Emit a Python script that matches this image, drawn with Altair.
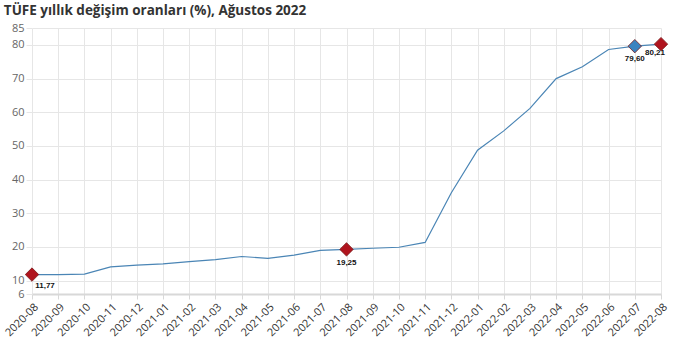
import altair as alt
import pandas as pd

months = ["2020-08", "2020-09", "2020-10", "2020-11", "2020-12", "2021-01", "2021-02",
          "2021-03", "2021-04", "2021-05", "2021-06", "2021-07", "2021-08", "2021-09",
          "2021-10", "2021-11", "2021-12", "2022-01", "2022-02", "2022-03", "2022-04",
          "2022-05", "2022-06", "2022-07", "2022-08"]
values = [11.77, 11.75, 11.89, 14.03, 14.60, 14.97, 15.61, 16.19, 17.14, 16.59, 17.53,
          18.95, 19.25, 19.58, 19.89, 21.31, 36.08, 48.69, 54.44, 61.14, 69.97, 73.50,
          78.62, 79.60, 80.21]

marker_months = ["2020-08", "2021-08", "2022-07", "2022-08"]
marker_values = [11.77, 19.25, 79.60, 80.21]
marker_labels = ["11,77", "19,25", "79,60", "80,21"]
marker_colors = ["#b0141e", "#b0141e", "#3b83c0", "#b0141e"]
label_dx = [13, 0, 0, -6]
label_dy = [11, 14, 13, 9]

y_ticks = [6, 10, 20, 30, 40, 50, 60, 70, 80, 85]

df = pd.DataFrame({"month": months, "value": values})
mk = pd.DataFrame({"month": marker_months, "value": marker_values, "label": marker_labels,
                   "color": marker_colors, "dx": label_dx, "dy": label_dy})

x = alt.X("month:O", sort=months, scale=alt.Scale(type="point", padding=0),
          axis=alt.Axis(title=None, labelAngle=-45, labelFontSize=11, labelColor="#333333",
                        labelFont="Open Sans", grid=True, gridColor="#e6e6e6",
                        domainColor="#d8d8d8", domainWidth=2, tickColor="#d8d8d8",
                        tickSize=5, labelPadding=2, labelOverlap=False))
y = alt.Y("value:Q", scale=alt.Scale(domain=[6, 85], nice=False, zero=False),
          axis=alt.Axis(title=None, values=y_ticks, labelFontSize=11, labelColor="#666666",
                        labelFont="Open Sans", grid=True, gridColor="#e6e6e6", domain=False,
                        tickColor="#e6e6e6", tickSize=6, labelPadding=2, labelOverlap=False))

line = alt.Chart(df).mark_line(color="#4a85b5", strokeWidth=1.2).encode(x=x, y=y)

pts = alt.Chart(mk).mark_point(shape="diamond", filled=True, size=180, opacity=1,
                               stroke="#7a1a1a", strokeWidth=0.8).encode(
    x=x, y=y, fill=alt.Fill("color:N", scale=None))

texts = []
for i in range(len(marker_months)):
    sub = mk.iloc[[i]]
    t = alt.Chart(sub).mark_text(fontSize=8, fontWeight="bold", font="Liberation Sans",
                                 color="#111111", dx=int(label_dx[i]), dy=int(label_dy[i])).encode(
        x=x, y=y, text="label:N")
    texts.append(t)

chart = alt.layer(line, pts, *texts).properties(
    width=629, height=266,
    padding={"left": 32, "top": 28, "right": 19, "bottom": 60},
    autosize=alt.AutoSizeParams(type="none"),
    title=alt.TitleParams("TÜFE yıllık değişim oranları (%), Ağustos 2022", anchor="start",
                          dx=1, offset=5, fontSize=13.5, font="Open Sans", fontWeight="bold",
                          color="#333333"),
).configure_view(stroke=None)

chart.save("out.html", embed_options={"renderer": "svg", "actions": False})
